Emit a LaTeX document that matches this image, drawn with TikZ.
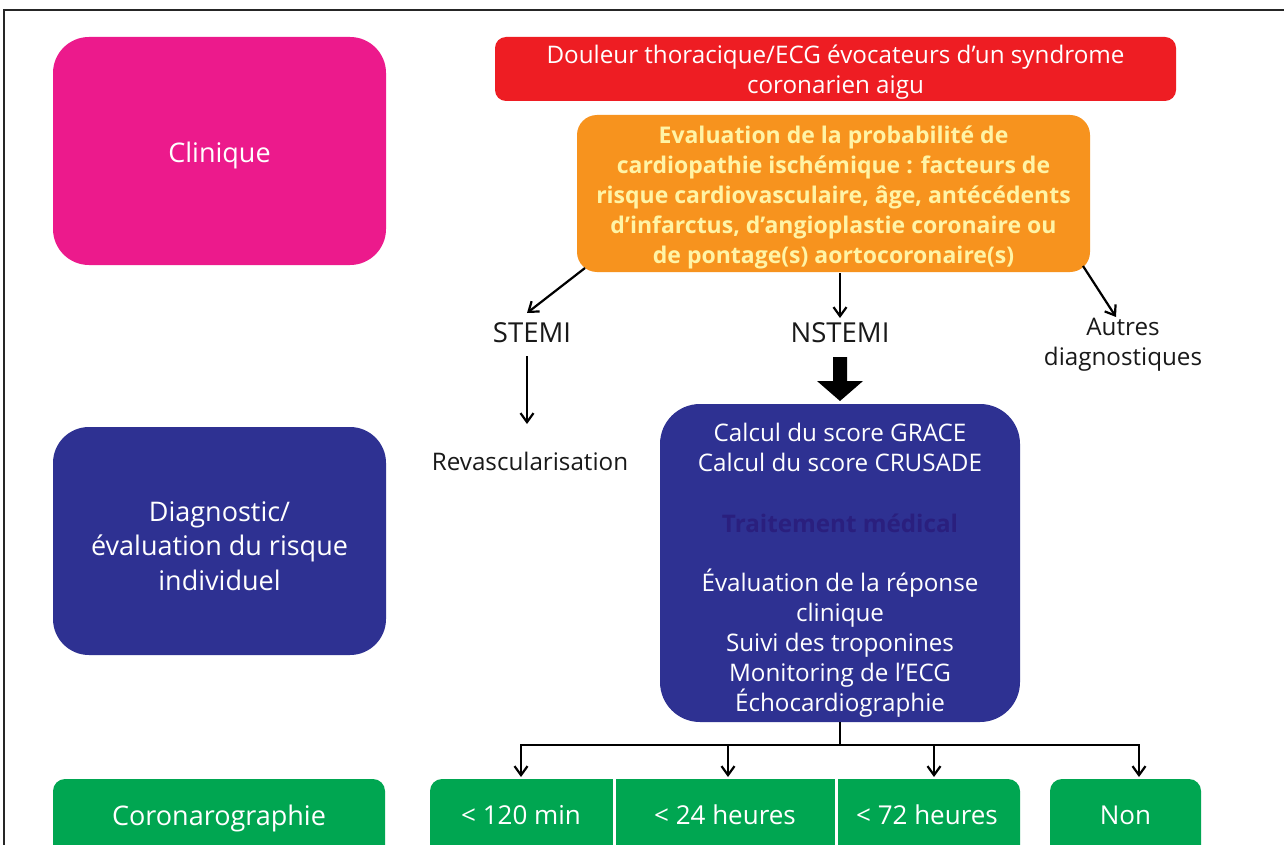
\documentclass[tikz,border=0pt]{standalone}
\usepackage{fontspec}
\setmainfont{Open Sans}
\usetikzlibrary{arrows.meta}
\definecolor{cmag}{HTML}{EC1A8C}
\definecolor{cred}{HTML}{EE1D23}
\definecolor{corange}{HTML}{F7931E}
\definecolor{cblue}{HTML}{2E3192}
\definecolor{cgreen}{HTML}{00A651}
\definecolor{ctrait}{HTML}{2A1F7E}
\definecolor{cyel}{HTML}{FFF4A6}
\tikzset{
  box/.style={draw=none, inner sep=0pt, align=center, text=white},
  lbl/.style={inner sep=0pt, align=center, text=black!90},
  arr/.style={line width=2.2pt, -{Straight Barb[length=9pt,width=13pt,line width=2.2pt]}},
  ln/.style={line width=2.2pt},
  f/.style={font=\fontsize{24.2}{30}\selectfont},
  fl/.style={font=\fontsize{27}{34.5}\selectfont},
  fg/.style={font=\fontsize{26}{30}\selectfont},
  fs/.style={font=\fontsize{27.5}{30}\selectfont},
}
\begin{document}
\begin{tikzpicture}[x=1pt,y=-1pt]
\useasboundingbox (0,0) rectangle (1284,845);
\fill[white] (0,0) rectangle (1284,845);
\draw[line width=2pt, black!85] (4,860) -- (4,10) -- (1300,10);
% left column
\node[box, fill=cmag, rounded corners=36pt, minimum width=333pt, minimum height=228pt] (clin) at (219.5,151) {};
\node[box, fl] (clintext) at (219.5,155) {Clinique};
\node[box, fill=cblue, rounded corners=36pt, minimum width=333pt, minimum height=228pt] (diag) at (219.5,541) {};
\node[box, fl] (diagtext) at (219.5,546) {Diagnostic/\\ évaluation du risque\\ individuel};
\node[box, fill=cgreen, rounded corners=12pt, minimum width=332pt, minimum height=80pt] (coro) at (219,819) {};
\node[box, fl] (corotext) at (219,818) {Coronarographie};
% top boxes
\node[box, fill=cred, rounded corners=11pt, minimum width=681pt, minimum height=64pt] (douleur) at (835.5,69) {};
\node[box, f] (dtext) at (835.5,72) {Douleur thoracique/ECG évocateurs d’un syndrome\\ coronarien aigu};
\node[box, fill=corange, rounded corners=20pt, minimum width=513pt, minimum height=157pt] (eval) at (833.5,193.5) {};
\node[box, font=\fontsize{23}{30}\selectfont\bfseries, text=cyel] (etext) at (833.5,197.5) {Evaluation de la probabilité de\\ cardiopathie ischémique : facteurs de\\ risque cardiovasculaire, âge, antécédents\\ d’infarctus, d’angioplastie coronaire ou\\ de pontage(s) aortocoronaire(s)};
% labels
\node[lbl, fs] (stemi) at (532,333) {STEMI};
\node[lbl, fs] (nstemi) at (840,333) {NSTEMI};
\node[lbl, f] (autres) at (1123,345) {Autres\\ diagnostiques};
\node[lbl, f] (revasc) at (530,461) {Revascularisation};
% blue box
\node[box, fill=cblue, rounded corners=40pt, minimum width=360pt, minimum height=318pt] (nst) at (840,563) {};
\node[box, f] (calc) at (840,447) {Calcul du score GRACE\\ Calcul du score CRUSADE};
\node[box, f, text=ctrait] (trait) at (840,523) {\bfseries Traitement médical};
\node[box, f] (suivi) at (840,643) {Évaluation de la réponse\\ clinique\\ Suivi des troponines\\ Monitoring de l’ECG\\ Échocardiographie};
% green boxes
\node[box, fill=cgreen, rounded corners=12pt, minimum width=590pt, minimum height=80pt] (grp) at (725,819) {};
\node[box, fg] (g1) at (521,815) {< 120 min};
\node[box, fg] (g2) at (725,815) {< 24 heures};
\node[box, fg] (g3) at (927,815) {< 72 heures};
\node[box, fill=cgreen, rounded corners=12pt, minimum width=151pt, minimum height=80pt] (non) at (1125.5,819) {};
\node[box, fg] (nontext) at (1125.5,815) {Non};
\draw[white, line width=3pt] (614,778) -- (614,860) (836,778) -- (836,860);
% connectors
\coordinate (e1) at (585,268);
\coordinate (e3) at (1083,266);
\draw[arr] (e1) -- (527,313);
\draw[arr] (840,273) -- (840,318);
\draw[arr] (e3) -- (1116,317);
\draw[arr] (527,356) -- (527,424);
\fill[black] (833,357) -- (847,357) -- (847,381) -- (863,381) -- (840,401) -- (817,381) -- (833,381) -- cycle;
\coordinate (split) at (840,745);
\draw[ln] (nst.south) -- (split);
\draw[ln] (521,745) -- (1139,745);
\draw[arr] (521,744) -- (521,777);
\draw[arr] (728,744) -- (728,777);
\draw[arr] (934,744) -- (934,777);
\draw[arr] (1139,744) -- (1139,777);
\end{tikzpicture}
\end{document}
